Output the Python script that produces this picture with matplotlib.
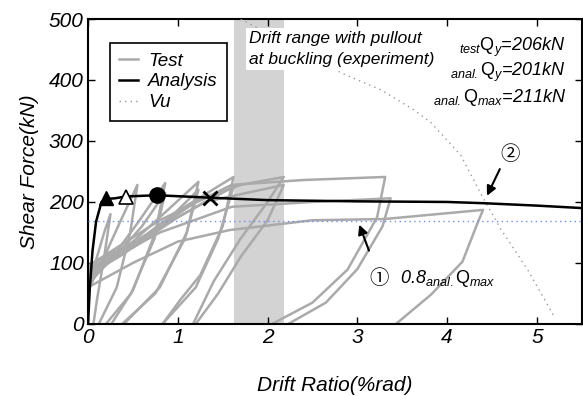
import numpy as np
import matplotlib
matplotlib.use("Agg")
import matplotlib.pyplot as plt

plt.rcParams["font.family"] = ["Liberation Sans", "Noto Sans CJK JP", "DejaVu Sans"]
plt.rcParams["mathtext.fontset"] = "custom"
plt.rcParams["mathtext.it"] = "Liberation Sans:italic"
plt.rcParams["mathtext.rm"] = "Liberation Sans"
plt.rcParams["mathtext.default"] = "it"

# test hysteresis (positive half only), key points
test_x = [
    [0.00, 0.08, 0.18, 0.25, 0.18, 0.10, 0.06],
    [0.00, 0.15, 0.35, 0.55, 0.47, 0.32, 0.12],
    [0.00, 0.25, 0.55, 0.86, 0.75, 0.50, 0.26],
    [0.00, 0.30, 0.60, 0.86, 0.74, 0.48, 0.20],
    [0.00, 0.35, 0.80, 1.23, 1.10, 0.80, 0.40],
    [0.00, 0.40, 0.85, 1.23, 1.08, 0.75, 0.38],
    [0.00, 0.45, 1.00, 1.62, 1.50, 1.25, 1.03, 0.83],
    [0.00, 0.50, 1.00, 1.62, 1.45, 1.20, 0.83],
    [0.00, 0.60, 1.20, 1.70, 2.18, 2.00, 1.70, 1.40, 1.17],
    [0.00, 0.70, 1.30, 2.18, 2.00, 1.70, 1.45, 1.20],
    [0.00, 0.80, 1.60, 2.40, 3.31, 3.22, 2.89, 2.50, 2.05],
    [0.00, 0.80, 1.60, 2.50, 3.37, 3.28, 3.00, 2.65, 2.23],
    [0.00, 0.50, 1.00, 1.58, 2.50, 3.30, 4.40, 4.34, 4.17, 3.82, 3.43],
]
test_y = [
    [45, 100, 150, 180, 110, 40, 0],
    [55, 100, 165, 228, 150, 60, 0],
    [65, 105, 165, 231, 150, 55, 0],
    [70, 110, 160, 215, 140, 50, 0],
    [75, 115, 175, 233, 150, 60, 0],
    [80, 115, 165, 220, 140, 50, 0],
    [85, 125, 185, 241, 160, 80, 40, 0],
    [90, 125, 175, 225, 140, 60, 0],
    [90, 140, 200, 228, 241, 200, 140, 70, 0],
    [95, 150, 200, 228, 170, 110, 50, 0],
    [95, 170, 228, 236, 241, 175, 89, 35, 0],
    [85, 150, 192, 200, 206, 160, 90, 35, 0],
    [60, 100, 135, 154, 170, 172, 187, 166, 102, 48, 0],
]

# analysis skeleton curve
anal_x = [0.0, 0.02, 0.05, 0.09, 0.15, 0.20, 0.30, 0.42, 0.77, 1.36, 2.0, 3.0, 4.0, 4.4, 5.0, 5.5]
anal_y = [0, 60, 120, 168, 200, 205, 206, 209, 211, 207, 203, 201, 200, 198, 194, 190]

# Vu curve
vu_x = [1.70, 2.83, 3.26, 3.63, 3.82, 4.15, 4.38, 4.6, 4.9, 5.2]
vu_y = [500, 411, 384, 351, 330, 277, 212, 155, 88, 10]

# key points on analysis curve
test_qy = (0.20, 206)
anal_qy = (0.42, 208)
anal_qmax = (0.77, 211)
ult_pt = (1.36, 206)

qmax_08 = 0.8 * 211
band = (1.63, 2.18)

fig = plt.figure(figsize=(5.83, 3.96), dpi=100)
ax = fig.add_axes([0.151, 0.182, 0.847, 0.770])

ax.axvspan(band[0], band[1], color="#d3d3d3", lw=0, zorder=0)

for i, (xs, ys) in enumerate(zip(test_x, test_y)):
    ax.plot(xs, ys, color="#aaaaaa", lw=1.8, zorder=2,
            label="Test" if i == 0 else None)

ax.plot(anal_x, anal_y, color="black", lw=1.8, zorder=4, label="Analysis")
ax.plot(vu_x, vu_y, color="#999999", lw=1.0, ls=(0, (1, 3)), zorder=3, label="Vu")
ax.axhline(qmax_08, color="#6f8ff0", lw=1.0, ls=(0, (1, 2.5)), zorder=3)

ax.plot(*test_qy, marker="^", ms=10, color="black", zorder=5)
ax.plot(*anal_qy, marker="^", ms=10, mfc="white", mec="black", mew=1.2, zorder=5)
ax.plot(*anal_qmax, marker="o", ms=11, color="black", zorder=5)
ax.plot(*ult_pt, marker="x", ms=10, mew=2, color="black", zorder=5)

ax.set_xlim(0, 5.5)
ax.set_ylim(0, 500)
ax.set_xticks([0, 1, 2, 3, 4, 5])
ax.set_yticks([0, 100, 200, 300, 400, 500])
ax.tick_params(direction="in", top=True, right=True, length=5, width=1,
               labelsize=15, pad=3)
for lab in ax.get_xticklabels() + ax.get_yticklabels():
    lab.set_fontstyle("italic")
for sp in ax.spines.values():
    sp.set_linewidth(1.5)

ax.set_xlabel("Drift Ratio(%rad)", fontsize=15, style="italic", labelpad=21)
ax.set_ylabel("Shear Force(kN)", fontsize=15, style="italic", labelpad=7)

leg = ax.legend(loc="upper left", bbox_to_anchor=(0.044, 0.921), borderaxespad=0,
                fancybox=False, edgecolor="black", handlelength=1.0, handletextpad=0.55,
                borderpad=0.5, labelspacing=0.2, prop={"size": 13.5, "style": "italic"})
leg.get_frame().set_linewidth(1.2)
leg.get_frame().set_alpha(1)

ax.text(1.79, 480, "Drift range with pullout\nat buckling (experiment)", fontsize=12.5,
        style="italic", va="top", ha="left", linespacing=1.5,
        bbox=dict(facecolor="white", edgecolor="none", pad=2), zorder=6)

ax.text(5.32, 454, r"$_{test}\mathrm{Q}_y$=206kN", fontsize=13, style="italic", ha="right", va="center")
ax.text(5.32, 413, r"$_{anal.}\mathrm{Q}_y$=201kN", fontsize=13, style="italic", ha="right", va="center")
ax.text(5.32, 372, r"$_{anal.}\mathrm{Q}_{max}$=211kN", fontsize=13, style="italic", ha="right", va="center")

ax.annotate("", xy=(3.01, 167), xytext=(3.14, 116),
            arrowprops=dict(arrowstyle="-|>", color="black", lw=1.5, mutation_scale=14))
ax.text(3.24, 75, "\u2460", fontsize=14, ha="center", va="center")
ax.text(3.48, 75, r"0.8$_{anal.}\mathrm{Q}_{max}$", fontsize=13, style="italic", ha="left", va="center")

ax.annotate("", xy=(4.43, 206), xytext=(4.6, 258),
            arrowprops=dict(arrowstyle="-|>", color="black", lw=1.5, mutation_scale=14))
ax.text(4.7, 278, "\u2461", fontsize=14, ha="center", va="center")

fig.savefig("out.png", dpi=100)
